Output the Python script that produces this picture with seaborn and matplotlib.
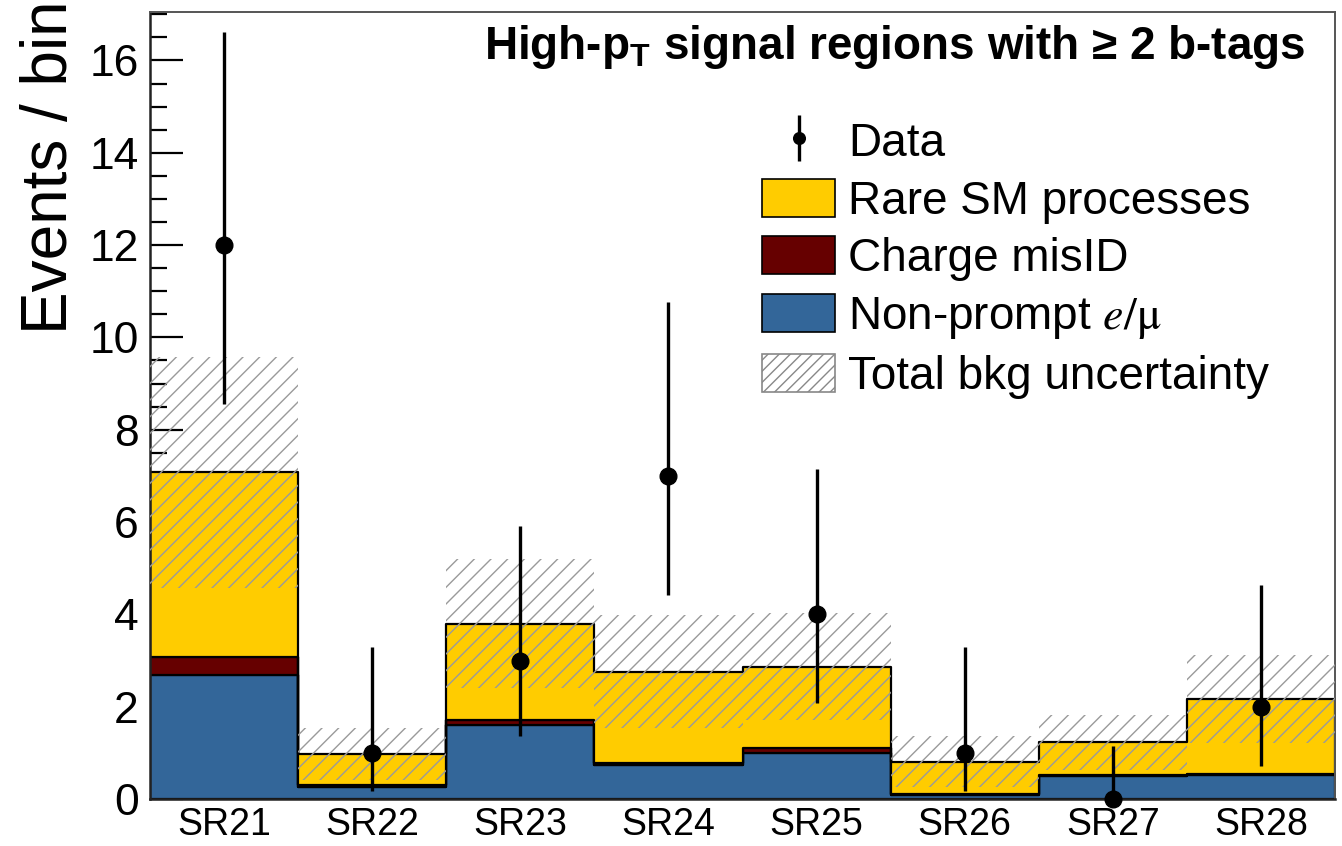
import numpy as np
import pandas as pd
import matplotlib
matplotlib.use("Agg")
import matplotlib.pyplot as plt
from matplotlib.patches import Patch
import seaborn as sns

# ---------------- data ----------------
regions = ["SR21", "SR22", "SR23", "SR24", "SR25", "SR26", "SR27", "SR28"]
nonprompt = [2.69, 0.27, 1.61, 0.74, 0.99, 0.08, 0.50, 0.53]
charge_misid = [0.38, 0.03, 0.11, 0.04, 0.11, 0.02, 0.01, 0.02]
rare_sm = [4.01, 0.68, 2.08, 1.98, 1.77, 0.71, 0.72, 1.62]
bkg_unc = [2.50, 0.56, 1.39, 1.23, 1.16, 0.55, 0.60, 0.95]
data_obs = [12, 1, 3, 7, 4, 1, 0, 2]
data_err_lo = [3.44, 0.83, 1.63, 2.58, 1.91, 0.83, 0.0, 1.29]
data_err_hi = [4.61, 2.30, 2.92, 3.77, 3.16, 2.30, 1.15, 2.64]

process_labels = ["Rare SM processes", "Charge misID", "Non-prompt $e/\\mathrm{\\mu}$"]
process_colors = ["#FFCC00", "#660000", "#336699"]
unc_label = "Total bkg uncertainty"
data_label = "Data"
title_text = "High-p$_\\mathbf{T}$ signal regions with \u2265 2 b-tags"
ylabel_text = "Events / bin"

# ---------------- style ----------------
sns.set_style("ticks")
plt.rcParams["font.family"] = ["Liberation Sans", "DejaVu Sans"]
plt.rcParams["mathtext.fontset"] = "custom"
plt.rcParams["mathtext.rm"] = "Liberation Sans"
plt.rcParams["mathtext.bf"] = "Liberation Sans:bold"
plt.rcParams["mathtext.it"] = "Liberation Sans:italic"
plt.rcParams["hatch.linewidth"] = 1.0
for k in ["text.color", "axes.labelcolor", "xtick.color", "ytick.color"]:
    plt.rcParams[k] = "black"

fig = plt.figure(figsize=(13.42, 8.46), dpi=100)
ax = fig.add_axes([150 / 1342, 1 - 799 / 846, (1335 - 150) / 1342, (799 - 12) / 846])

idx = np.arange(len(regions))
rows = []
for lab, vals in zip(process_labels, [rare_sm, charge_misid, nonprompt]):
    for i, v in zip(idx, vals):
        rows.append({"idx": i, "value": v, "process": lab})
df = pd.DataFrame(rows)

sns.histplot(data=df, x="idx", weights="value", hue="process",
             hue_order=process_labels, palette=process_colors,
             multiple="stack", discrete=True, element="step",
             alpha=1, edgecolor="black", linewidth=1.6, legend=False, ax=ax)

total = np.array(nonprompt) + np.array(charge_misid) + np.array(rare_sm)
unc = np.array(bkg_unc)
ax.bar(idx, 2 * unc, bottom=total - unc, width=1.0, facecolor="none",
       edgecolor="#9a9a9a", hatch="//", linewidth=0, zorder=3)

eb = ax.errorbar(idx, data_obs, yerr=[data_err_lo, data_err_hi], fmt="o",
                 color="black", markersize=12, elinewidth=2.4, capsize=0,
                 zorder=6, clip_on=False)

ax.set_xlim(-0.5, len(regions) - 0.5)
ax.set_ylim(0, 17.05)
ax.set_xlabel("")
ax.set_ylabel("")

ax.set_xticks(idx)
ax.set_xticklabels(regions, fontsize=27)
ax.set_xticks(np.arange(0.5, len(regions) - 0.5, 1.0), minor=True)
ax.tick_params(axis="x", which="major", length=0, pad=6)
ax.tick_params(axis="x", which="minor", direction="in", length=17, width=1.3, color="#222222")
ax.set_yticks(np.arange(0, 17, 2))
ax.set_yticks(np.arange(0, 17.01, 0.5), minor=True)
ax.tick_params(axis="y", which="major", direction="in", length=24, width=1.6, labelsize=32, pad=8)
ax.tick_params(axis="y", which="minor", direction="in", length=12, width=1.6)

for s in ["left", "bottom"]:
    ax.spines[s].set_linewidth(1.8)
    ax.spines[s].set_color("#222222")
for s in ["top", "right"]:
    ax.spines[s].set_linewidth(1.4)
    ax.spines[s].set_color("#555555")
    ax.spines[s].set_visible(True)

fig.text(50 / 1342, 1.0, ylabel_text, rotation=90, ha="center", va="top", fontsize=46)

fig.text(1305 / 1342, 1 - 47 / 846, title_text, ha="right", va="center",
         fontsize=33, fontweight="bold")

handles = [eb,
           Patch(facecolor=process_colors[0], edgecolor="black", linewidth=1.2),
           Patch(facecolor=process_colors[1], edgecolor="black", linewidth=1.2),
           Patch(facecolor=process_colors[2], edgecolor="black", linewidth=1.2),
           Patch(facecolor="white", edgecolor="#888888", hatch="///", linewidth=1.2)]
labels = [data_label] + process_labels + [unc_label]
leg = ax.legend(handles, labels, loc="upper left", bbox_to_anchor=(762 / 1342, 1 - 121 / 846),
                bbox_transform=fig.transFigure, frameon=False, fontsize=33,
                handlelength=1.6, handleheight=0.9, labelspacing=0.28,
                handletextpad=0.28, borderpad=0, borderaxespad=0, markerscale=0.7)
leg.get_texts()[3].set_math_fontfamily("stix")

fig.savefig("out.png", dpi=100)
